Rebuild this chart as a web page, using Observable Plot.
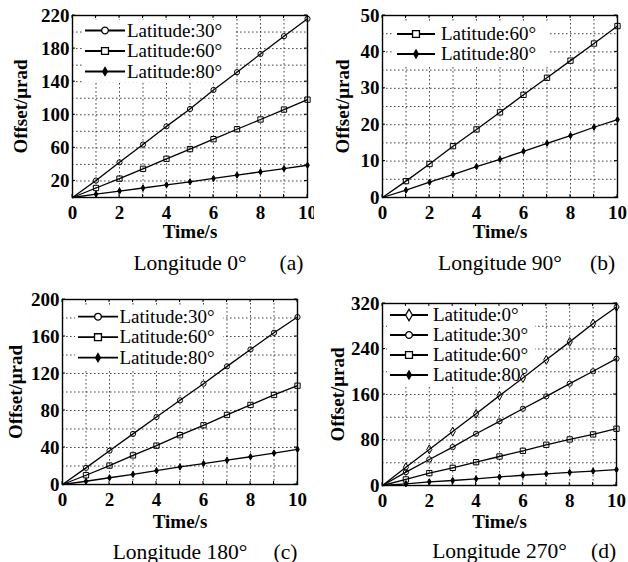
<!DOCTYPE html>
<html><head><meta charset="utf-8">
<script src="https://cdn.jsdelivr.net/npm/d3@7"></script>
<script src="https://cdn.jsdelivr.net/npm/@observablehq/plot@0.6"></script>
<style>
body{margin:0;background:#fff;}
#wrap{position:relative;width:628px;height:562px;background:#fff;}
.panel{position:absolute;}
</style></head><body><div id="wrap"></div>
<script>
// ---------- DATA ----------
const time = [0,1,2,3,4,5,6,7,8,9,10];
const xTickLabels = [0,2,4,6,8,10];
const xGrid = [1,2,3,4,5,6,7,8,9];

// (a) Longitude 0°
const a_lat30 = [0,20.5,42.5,64,86,107,130,151.5,173.5,195,216];
const a_lat60 = [0,11.5,22.8,34.7,46.8,58.5,70.5,82.5,94.3,106.3,118.3];
const a_lat80 = [0,4,7.8,11.5,15.3,19,23,27,31,35,39];
const a_yTicks = [20,60,100,140,180,220];
const a_yGrid = [20,40,60,80,100,120,140,160,180,200];

// (b) Longitude 90°
const b_lat60 = [0,4.5,9.2,14.1,18.7,23.4,28.2,32.9,37.6,42.3,47.1];
const b_lat80 = [0,2,4.2,6.3,8.5,10.5,12.7,14.9,17,19.3,21.4];
const b_yTicks = [0,10,20,30,40,50];
const b_yGrid = [5,10,15,20,25,30,35,40,45];

// (c) Longitude 180°
const c_lat30 = [0,18,36.5,54.7,73,91,109,127.7,146,164,181];
const c_lat60 = [0,10,20.5,31.5,42,53.3,64,75.2,86,96.8,106.8];
const c_lat80 = [0,3.5,7.3,11,15,19,22.6,26.3,30,34,38];
const c_yTicks = [0,40,80,120,160,200];
const c_yGrid = [20,40,60,80,100,120,140,160,180];

// (d) Longitude 270°
const d_lat0 = [0,32,63.4,94.8,126,158,189,221,252.5,284.8,314];
const d_lat30 = [0,23.5,45.8,67.5,91,112.8,135,156.8,179,200.8,223];
const d_lat60 = [0,10.6,21.7,31,41,51,61,71.6,81,89.8,99.8];
const d_lat80 = [0,3,6.5,8.8,11.7,15,18,20.5,23,25.3,28];
const d_yTicks = [0,80,160,240,320];
const d_yGrid = [40,80,120,160,200,240,280];

const captions = ["Longitude 0°","Longitude 90°","Longitude 180°","Longitude 270°"];
const panelTags = ["(a)","(b)","(c)","(d)"];
const latNames = {0:"Latitude:0°",30:"Latitude:30°",60:"Latitude:60°",80:"Latitude:80°"};

// ---------- STYLE ----------
const FONT = "'Liberation Serif','Times New Roman',serif";
const markerStyle = {
  0:  {symbol:"diamond", fill:"none",  r:2.7},
  30: {symbol:"circle",  fill:"none",  r:2.6},
  60: {symbol:"square",  fill:"none",  r:3.0},
  80: {symbol:"diamond", fill:"black", r:1.9}
};
const d3sym = {circle:d3.symbolCircle, square:d3.symbolSquare, diamond:d3.symbolDiamond};

const panels = [
  {series:[[30,a_lat30],[60,a_lat60],[80,a_lat80]], domain:[0,220], yTicks:a_yTicks, yGrid:a_yGrid,
   pos:{left:0,top:0}, m:{top:15,right:7,bottom:84,left:72},
   xlabDy:40, ylabDx:-59, capDy:72, tagDx:-16,
   leg:{x0:13,x1:53,tx:55,y0:15.5,step:20.5,w:152}},
  {series:[[60,b_lat60],[80,b_lat80]], domain:[0,50], yTicks:b_yTicks, yGrid:b_yGrid,
   pos:{left:314,top:0}, m:{top:15,right:11,bottom:84,left:68},
   xlabDy:40, ylabDx:-47, capDy:72, tagDx:-15,
   leg:{x0:15,x1:53,tx:59,y0:19,step:20,w:154}},
  {series:[[30,c_lat30],[60,c_lat60],[80,c_lat80]], domain:[0,200], yTicks:c_yTicks, yGrid:c_yGrid,
   pos:{left:0,top:281}, m:{top:18,right:17,bottom:78,left:62},
   xlabDy:43, ylabDx:-54, capDy:74, tagDx:-12,
   leg:{x0:16,x1:56,tx:57.5,y0:17.7,step:20.5,w:148}},
  {series:[[0,d_lat0],[30,d_lat30],[60,d_lat60],[80,d_lat80]], domain:[0,320], yTicks:d_yTicks, yGrid:d_yGrid,
   pos:{left:314,top:281}, m:{top:22,right:12,bottom:77,left:68},
   xlabDy:42, ylabDx:-52, capDy:72, tagDx:-13,
   leg:{x0:8,x1:46,tx:51,y0:12,step:20,w:148}}
];

// inward frame ticks drawn with the plot's scales
function frameTicks(xt, yt, len) {
  return (index, scales, values, dim) => {
    const top = dim.marginTop, bottom = dim.height - dim.marginBottom;
    const left = dim.marginLeft, right = dim.width - dim.marginRight;
    let d = "";
    for (const t of xt) { const x = scales.x(t); d += `M${x},${top}v${len}M${x},${bottom}v${-len}`; }
    for (const t of yt) { const y = scales.y(t); d += `M${left},${y}h${len}M${right},${y}h${-len}`; }
    const g = d3.create("svg:g");
    g.append("path").attr("d", d).attr("stroke","black").attr("stroke-width",1).attr("fill","none");
    return g.node();
  };
}

function legendBg(p) {
  return (index, scales, values, dim) => {
    const L = p.leg, n = p.series.length;
    const g = d3.create("svg:g");
    g.append("rect")
      .attr("x", dim.marginLeft + L.x0 - 3)
      .attr("y", dim.marginTop + L.y0 - 11)
      .attr("width", L.w)
      .attr("height", (n-1)*L.step + 22)
      .attr("fill","white");
    return g.node();
  };
}

function legendItems(p) {
  return (index, scales, values, dim) => {
    const L = p.leg;
    const g = d3.create("svg:g");
    p.series.forEach(([lat], i) => {
      const y = dim.marginTop + L.y0 + i*L.step;
      const x0 = dim.marginLeft + L.x0, x1 = dim.marginLeft + L.x1;
      g.append("line").attr("x1",x0).attr("x2",x1).attr("y1",y).attr("y2",y)
        .attr("stroke","black").attr("stroke-width",1.8);
      const ms = markerStyle[lat];
      const r = ms.r*1.3;
      g.append("path")
        .attr("d", d3.symbol(d3sym[ms.symbol], Math.PI*r*r)())
        .attr("transform",`translate(${(x0+x1)/2},${y})`)
        .attr("fill", ms.fill === "none" ? "white" : "black")
        .attr("stroke","black").attr("stroke-width",1.3);
      g.append("text").attr("x", dim.marginLeft + L.tx).attr("y", y).attr("dy","0.32em")
        .attr("text-anchor","start")
        .attr("font-size", 19).attr("font-family", FONT).attr("fill","black")
        .text(latNames[lat]);
    });
    return g.node();
  };
}

const wrap = document.getElementById("wrap");

panels.forEach((p, k) => {
  const rows = [];
  p.series.forEach(([lat, vals]) => vals.forEach((v, i) => rows.push({t: time[i], v, lat})));
  const dotMarks = p.series.map(([lat]) => {
    const ms = markerStyle[lat];
    return Plot.dot(rows.filter(d => d.lat === lat && d.t > 0), {
      x:"t", y:"v", symbol: ms.symbol, r: ms.r, fill: ms.fill, stroke:"black", strokeWidth:1
    });
  });
  const chart = Plot.plot({
    width: 314, height: 281,
    marginTop: p.m.top, marginRight: p.m.right, marginBottom: p.m.bottom, marginLeft: p.m.left,
    style: {fontFamily: FONT, fontSize: "19px", background: "white", color: "black", overflow: "visible"},
    x: {domain:[0,10]},
    y: {domain:p.domain},
    marks: [
      Plot.gridX(xGrid, {stroke:"#333", strokeOpacity:0.9, strokeDasharray:"1.6,2.4", strokeWidth:1}),
      Plot.gridY(p.yGrid, {stroke:"#333", strokeOpacity:0.9, strokeDasharray:"1.6,2.4", strokeWidth:1}),
      legendBg(p),
      Plot.line(rows, {x:"t", y:"v", z:"lat", stroke:"black", strokeWidth:1.3}),
      ...dotMarks,
      legendItems(p),
      Plot.axisX({ticks: xTickLabels, tickSize: 0, tickPadding: 7.5, label: null, fontWeight:"bold", fontSize:19}),
      Plot.axisY({ticks: p.yTicks, tickSize: 0, tickPadding: 3, label: null, fontWeight:"bold", fontSize:19}),
      frameTicks(time, p.yTicks, 3),
      Plot.frame({stroke:"black", strokeWidth:1.4}),
      Plot.text(["Time/s"], {frameAnchor:"bottom", dy:p.xlabDy, textAnchor:"middle", lineAnchor:"bottom", fontWeight:"bold", fontSize:19}),
      Plot.text(["Offset/μrad"], {frameAnchor:"left", dx:p.ylabDx, rotate:-90, textAnchor:"middle", lineAnchor:"top", fontWeight:"bold", fontSize:19}),
      Plot.text([captions[k]], {frameAnchor:"bottom", dy:p.capDy, textAnchor:"middle", lineAnchor:"bottom", fontSize:21.5}),
      Plot.text([panelTags[k]], {frameAnchor:"bottom-right", dx:p.tagDx, dy:p.capDy, textAnchor:"middle", lineAnchor:"bottom", fontSize:21.5})
    ]
  });
  const div = document.createElement("div");
  div.className = "panel";
  div.style.left = p.pos.left + "px";
  div.style.top = p.pos.top + "px";
  div.appendChild(chart);
  wrap.appendChild(div);
});
</script>
</body></html>
